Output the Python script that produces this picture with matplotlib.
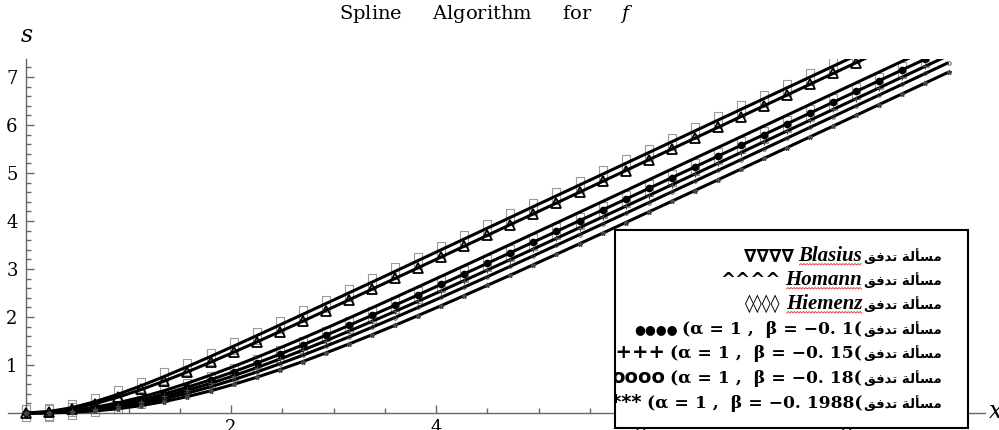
import numpy as np
import matplotlib
matplotlib.use("Agg")
import matplotlib.pyplot as plt
from matplotlib.path import Path
from matplotlib.patches import Rectangle
from matplotlib.transforms import Bbox

plt.rcParams['font.family'] = ['DejaVu Serif']
plt.rcParams['mathtext.fontset'] = 'dejavuserif'

# eta grid (41 points, 0..9)
eta = [0.0, 0.225, 0.45, 0.675, 0.9, 1.125, 1.35, 1.575, 1.8, 2.025,
       2.25, 2.475, 2.7, 2.925, 3.15, 3.375, 3.6, 3.825, 4.05, 4.275,
       4.5, 4.725, 4.95, 5.175, 5.4, 5.625, 5.85, 6.075, 6.3, 6.525,
       6.75, 6.975, 7.2, 7.425, 7.65, 7.875, 8.1, 8.325, 8.55, 8.775, 9.0]

f_hiemenz = [0, .030, .112, .237, .392, .569, .762, .966, 1.177, 1.392, 1.611, 1.832, 2.055, 2.278,
             2.502, 2.725, 2.95, 3.175, 3.40, 3.625, 3.85, 4.075, 4.30, 4.525, 4.75, 4.975, 5.20,
             5.425, 5.65, 5.875, 6.10, 6.325, 6.55, 6.775, 7.00, 7.225, 7.45, 7.675, 7.90, 8.125, 8.35]
f_homann = [0, .023, .091, .195, .331, .490, .667, .857, 1.058, 1.265, 1.478, 1.695, 1.913, 2.134,
            2.356, 2.579, 2.803, 3.025, 3.25, 3.475, 3.70, 3.925, 4.15, 4.375, 4.60, 4.825, 5.05,
            5.275, 5.50, 5.725, 5.95, 6.175, 6.40, 6.625, 6.85, 7.075, 7.30, 7.525, 7.75, 7.975, 8.20]
f_blasius = [0, .013, .053, .120, .214, .331, .467, .621, .789, .969, 1.158, 1.354, 1.557, 1.765,
             1.976, 2.190, 2.407, 2.626, 2.846, 3.067, 3.289, 3.512, 3.735, 3.959, 4.183, 4.407, 4.631,
             4.856, 5.081, 5.306, 5.53, 5.755, 5.98, 6.205, 6.43, 6.655, 6.88, 7.105, 7.33, 7.555, 7.78]
f_b010 = [0, .009, .041, .096, .175, .276, .398, .537, .691, .859, 1.037, 1.224, 1.418, 1.619,
          1.824, 2.034, 2.246, 2.461, 2.679, 2.897, 3.118, 3.339, 3.561, 3.783, 4.007, 4.230, 4.454,
          4.678, 4.902, 5.126, 5.351, 5.576, 5.80, 6.025, 6.25, 6.475, 6.70, 6.925, 7.15, 7.375, 7.60]
f_b015 = [0, .007, .032, .078, .147, .237, .346, .474, .617, .775, .944, 1.122, 1.309, 1.503,
          1.704, 1.908, 2.117, 2.328, 2.543, 2.759, 2.977, 3.197, 3.417, 3.639, 3.861, 4.084, 4.307,
          4.530, 4.754, 4.978, 5.202, 5.426, 5.651, 5.876, 6.10, 6.325, 6.55, 6.775, 7.00, 7.225, 7.45]
f_b018 = [0, .005, .023, .061, .119, .198, .296, .413, .546, .693, .853, 1.024, 1.203, 1.391,
          1.585, 1.785, 1.989, 2.198, 2.408, 2.622, 2.838, 3.056, 3.275, 3.495, 3.716, 3.938, 4.160,
          4.383, 4.607, 4.830, 5.054, 5.278, 5.503, 5.727, 5.952, 6.176, 6.401, 6.626, 6.85, 7.075, 7.30]
f_b01988 = [0, .002, .015, .043, .089, .155, .239, .342, .461, .596, .744, .903, 1.072, 1.251,
            1.437, 1.629, 1.827, 2.030, 2.236, 2.446, 2.658, 2.872, 3.089, 3.307, 3.526, 3.746, 3.967,
            4.189, 4.411, 4.634, 4.858, 5.081, 5.305, 5.529, 5.754, 5.978, 6.203, 6.427, 6.652, 6.876, 7.101]

W, H = 999, 430
fig = plt.figure(figsize=(W / 100, H / 100), dpi=100)

# axes: x=0 at px 26, 102.5 px/unit ; y=0 at px 413, 48 px/unit
x0, xmin, xmax = 26, -0.2, 9.36
y0, ymin, ymax = 413, -0.35, 7.37
left = x0 + xmin * 102.5
bottom = y0 - ymin * 48
ax = fig.add_axes([left / W, 1 - bottom / H, (xmax - xmin) * 102.5 / W, (ymax - ymin) * 48 / H])
ax.set_xlim(xmin, xmax)
ax.set_ylim(ymin, ymax)

# gray box markers (tall rectangles)
box = Path([(-0.42, -1), (0.42, -1), (0.42, 1), (-0.42, 1), (-0.42, -1)])
for f in (f_hiemenz, f_b010):
    ax.plot(eta, f, ls='none', marker=box, ms=12.2, mfc='none', mec='#9a9a9a', mew=0.8, zorder=2)

curves = [f_hiemenz, f_homann, f_blasius, f_b010, f_b015, f_b018, f_b01988]
for f in curves:
    ax.plot(eta, f, color='black', lw=2.2, zorder=3, solid_capstyle='butt')

ax.plot(eta, f_homann, ls='none', marker='^', ms=7, mfc='none', mec='black', mew=1.3, zorder=4)
ax.plot(eta, f_b010, ls='none', marker='o', ms=4.5, color='black', zorder=4)
ax.plot(eta, f_b015, ls='none', marker='+', ms=4, mec='#444444', mew=0.8, zorder=4)
ax.plot(eta, f_b018, ls='none', marker='o', ms=2.5, mfc='none', mec='#444444', mew=0.6, zorder=4)
ax.plot(eta, f_b01988, ls='none', marker='*', ms=3.5, color='#444444', zorder=4)

# Mathematica style axes
for s in ('top', 'right'):
    ax.spines[s].set_visible(False)
ax.spines['left'].set_position(('data', 0))
ax.spines['bottom'].set_position(('data', 0))
ax.spines['left'].set_bounds(-0.1, ymax)
ax.spines['bottom'].set_bounds(-0.18, xmax)
for s in ('left', 'bottom'):
    ax.spines[s].set_color('#666666')
    ax.spines[s].set_linewidth(1.0)
ax.set_xticks([2, 4, 6, 8])
ax.set_xticks(np.arange(0.5, 9.3, 0.5), minor=True)
ax.set_yticks([1, 2, 3, 4, 5, 6, 7])
ax.set_yticks(np.arange(0.2, 7.3, 0.2), minor=True)
ax.tick_params(which='both', direction='in', color='#666666', width=1.0, labelsize=13)
ax.tick_params(which='major', length=6)
ax.tick_params(which='minor', length=3.5)
ax.tick_params(axis='y', pad=6)
ax.tick_params(axis='x', pad=4)
ax.patch.set_visible(False)

fig.text(486 / W, 1 - 14 / H, r"Spline     Algorithm     for     $\mathit{f}$", ha='center',
         va='center', fontsize=14)
fig.text(27 / W, 1 - 36 / H, "s", ha='center', va='center', fontsize=17, style='italic')
fig.text(989 / W, 1 - 412 / H, "x", ha='left', va='center', fontsize=17, style='italic')

# legend box
bx0, bx1, by0, by1 = 615, 968, 230, 428
fig.patches.append(Rectangle((bx0 / W, 1 - by1 / H), (bx1 - bx0) / W, (by1 - by0) / H,
                             transform=fig.transFigure, facecolor='white', edgecolor='black',
                             lw=1.5, zorder=10))
clip = Bbox.from_extents(bx0 + 1, H - by1 + 1, bx1 - 1, H - by0 - 1)

arabic = '\ufed6\ufed3\ufeaa\ufe97 \ufe94\ufedf\ufe84\ufeb4\ufee3'
serif = ['Liberation Serif', 'DejaVu Serif']
rows = [
    ("\u2207\u2207\u2207\u2207", "Blasius", None),
    ("^^^^", "Homann", None),
    ("\u25ca\u25ca\u25ca\u25ca", "Hiemenz", None),
    ("\u25cf\u25cf\u25cf\u25cf", None, "(\u03b1 = 1 ,  \u03b2 = \u22120. 1("),
    ("++++", None, "(\u03b1 = 1 ,  \u03b2 = \u22120. 15("),
    ("oooo", None, "(\u03b1 = 1 ,  \u03b2 = \u22120. 18("),
    ("****", None, "(\u03b1 = 1 ,  \u03b2 = \u22120. 1988("),
]
row_y = [256, 280, 304, 329, 353, 378, 403]
renderer = fig.canvas.get_renderer()
for (lead, name, expr), yy in zip(rows, row_y):
    yf = 1 - (yy + 5) / H
    t = fig.text(942 / W, yf, arabic, ha='right', va='baseline', fontsize=9.5,
                 family=['DejaVu Sans'], weight='bold', zorder=11)
    xr = t.get_window_extent(renderer).x0 - 2
    if name is not None:
        t2 = fig.text(xr / W, yf, name, ha='right', va='baseline', fontsize=15,
                      family=serif, weight='bold', style='italic', zorder=11)
        bb = t2.get_window_extent(renderer)
        # red spell-check squiggle
        xs = np.arange(bb.x0 + 1, bb.x1, 1.5)
        ys = (bb.y0 + 1.0) + np.where(np.arange(len(xs)) % 2 == 0, 0.0, 1.5)
        fig.lines.append(plt.Line2D(xs / W, ys / H, transform=fig.transFigure, color='#e03030',
                                    lw=0.6, zorder=11))
        xr = bb.x0 - 5
        t3 = fig.text(xr / W, yf, lead, ha='right', va='baseline', fontsize=13,
                      family=['DejaVu Sans'], weight='bold', zorder=11)
        t3.set_clip_box(clip)
    else:
        t2 = fig.text(xr / W, yf, expr, ha='right', va='baseline', fontsize=12.3,
                      family=['DejaVu Serif'], weight='bold', zorder=11)
        t2.set_clip_box(clip)
        xr = t2.get_window_extent(renderer).x0 - 5
        if lead.startswith("\u25cf"):
            t3 = fig.text(xr / W, yf + 1 / H, lead, ha='right', va='baseline', fontsize=9,
                          family=['DejaVu Sans'], zorder=11)
        else:
            t3 = fig.text(xr / W, yf, lead, ha='right', va='baseline', fontsize=14,
                          family=['DejaVu Sans'], weight='bold', zorder=11)
        t3.set_clip_box(clip)

fig.savefig("out.png", dpi=100)
